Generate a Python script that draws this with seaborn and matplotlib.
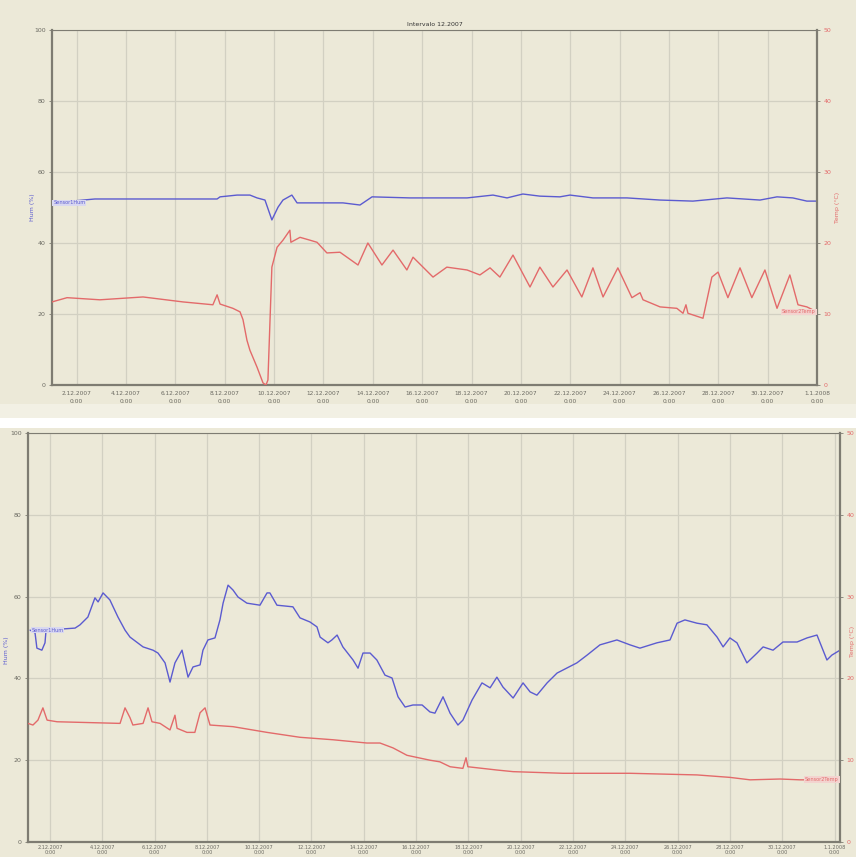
import matplotlib
matplotlib.use("Agg")
import matplotlib.pyplot as plt
import seaborn as sns
import pandas as pd
from matplotlib.patches import Rectangle

# ---------------- data (days since 1.12.2007 0:00) ----------------
top_hum_days = [0, 1.74, 6.69, 6.81, 7.50, 8.02, 8.31, 8.63, 8.91, 9.16, 9.36, 9.72, 9.93,
                11.79, 12.48, 12.97, 14.51, 16.82, 17.87, 18.44, 19.08, 19.77, 20.58, 20.99,
                21.92, 23.30, 24.64, 25.97, 27.35, 28.69, 29.38, 30.02, 30.59, 31.0]
top_hum = [51.3, 52.4, 52.4, 53.0, 53.5, 53.5, 52.7, 52.1, 46.5, 50.1, 52.1, 53.5, 51.3,
           51.3, 50.7, 53.0, 52.7, 52.7, 53.5, 52.7, 53.8, 53.2, 53.0, 53.5,
           52.7, 52.7, 52.1, 51.8, 52.7, 52.1, 53.0, 52.7, 51.8, 51.8]

top_temp_days = [0, 0.61, 1.94, 3.69, 5.31, 6.52, 6.69, 6.81, 7.33, 7.62, 7.74, 7.90, 8.02,
                 8.31, 8.55, 8.67, 8.75, 8.91, 9.12, 9.36, 9.64, 9.68, 10.05, 10.45, 10.74,
                 11.14, 11.67, 12.40, 12.80, 13.37, 13.82, 14.38, 14.63, 15.44, 16.00, 16.82,
                 17.34, 17.75, 18.15, 18.68, 19.37, 19.77, 20.30, 20.87, 21.47, 21.92, 22.33,
                 22.93, 23.50, 23.83, 23.95, 24.64, 25.32, 25.57, 25.69, 25.77, 26.38, 26.74,
                 26.99, 27.39, 27.88, 28.36, 28.89, 29.38, 29.90, 30.23, 30.59, 31.0]
top_temp = [11.7, 12.3, 12.0, 12.4, 11.7, 11.3, 12.7, 11.4, 10.8, 10.3, 9.2, 6.3, 4.9,
            2.5, 0.3, 0.0, 0.7, 16.6, 19.4, 20.4, 21.8, 20.1, 20.8, 20.4, 20.1,
            18.6, 18.7, 16.9, 20.0, 16.9, 19.0, 16.2, 18.0, 15.2, 16.6, 16.2,
            15.5, 16.5, 15.2, 18.3, 13.8, 16.6, 13.8, 16.2, 12.4, 16.5, 12.4,
            16.5, 12.3, 13.0, 12.0, 11.0, 10.8, 10.1, 11.3, 10.1, 9.4, 15.2,
            15.9, 12.3, 16.5, 12.3, 16.2, 10.8, 15.5, 11.3, 11.0, 10.3]

bot_hum_days = [0.24, 0.43, 0.50, 0.69, 0.81, 0.85, 1.96, 2.15, 2.45, 2.72, 2.84, 3.03, 3.29,
                3.60, 3.87, 4.06, 4.56, 4.94, 5.13, 5.40, 5.59, 5.78, 6.05, 6.28, 6.47, 6.74,
                6.85, 7.04, 7.31, 7.50, 7.62, 7.81, 8.00, 8.19, 8.53, 9.03, 9.30, 9.41, 9.68,
                10.29, 10.56, 10.94, 11.21, 11.33, 11.63, 11.78, 11.98, 12.20, 12.59, 12.78,
                12.97, 13.24, 13.50, 13.81, 14.08, 14.31, 14.58, 14.88, 15.23, 15.53, 15.72,
                16.03, 16.30, 16.60, 16.79, 17.14, 17.52, 17.83, 18.09, 18.32, 18.71, 19.09,
                19.36, 19.62, 20.01, 20.39, 21.15, 21.54, 22.03, 22.68, 23.18, 23.56, 24.21,
                24.71, 24.98, 25.28, 25.74, 26.12, 26.51, 26.74, 27.00, 27.27, 27.65, 28.04,
                28.27, 28.65, 29.03, 29.57, 29.95, 30.33, 30.71, 30.90, 31.21]
bot_hum = [51.8, 51.1, 47.4, 46.9, 48.7, 51.8, 52.3, 53.1, 55.0, 59.7, 58.7, 60.9, 59.2,
           55.0, 51.8, 50.1, 47.7, 46.9, 46.2, 43.8, 39.1, 43.8, 46.9, 40.3, 42.8, 43.3,
           46.9, 49.4, 49.9, 54.3, 58.4, 62.8, 61.6, 59.9, 58.4, 57.9, 60.9, 60.9, 57.9,
           57.5, 54.8, 53.8, 52.6, 50.1, 48.7, 49.4, 50.6, 47.7, 44.5, 42.5,
           46.2, 46.2, 44.5, 40.8, 40.1, 35.5, 33.0, 33.5, 33.5, 31.8, 31.5,
           35.5, 31.5, 28.6, 29.8, 34.7, 38.9, 37.7, 40.3, 37.9, 35.2, 38.9,
           36.7, 35.9, 38.9, 41.3, 43.8, 45.7, 48.2, 49.4, 48.2, 47.4, 48.7,
           49.4, 53.5, 54.3, 53.5, 53.1, 50.1, 47.7, 49.9, 48.7, 43.8, 46.2,
           47.7, 46.9, 48.9, 48.9, 49.9, 50.6, 44.5, 45.7, 46.9]

bot_temp_days = [0.16, 0.35, 0.54, 0.73, 0.89, 1.27, 3.68, 3.87, 4.06, 4.17, 4.56, 4.75, 4.90,
                 5.21, 5.59, 5.78, 5.86, 6.24, 6.54, 6.74, 6.93, 7.12, 8.00, 9.30, 10.56,
                 11.82, 13.12, 13.62, 14.12, 14.65, 15.53, 15.91, 16.30, 16.79, 16.91, 16.98,
                 18.09, 18.71, 20.62, 23.18, 25.74, 27.00, 27.77, 28.92, 29.68, 31.21]
bot_temp = [14.5, 14.3, 14.9, 16.4, 14.9, 14.7, 14.5, 16.4, 15.2, 14.3, 14.5, 16.4, 14.7,
            14.5, 13.7, 15.5, 13.9, 13.4, 13.4, 15.8, 16.4, 14.3, 14.1, 13.4, 12.8,
            12.5, 12.1, 12.1, 11.5, 10.6, 10.0, 9.8, 9.2, 9.0, 10.3, 9.2,
            8.8, 8.6, 8.4, 8.4, 8.2, 7.9, 7.6, 7.7, 7.6, 7.6]

tick_days = [1, 3, 5, 7, 9, 11, 13, 15, 17, 19, 21, 23, 25, 27, 29, 31]
tick_labels = ["2.12.2007\n0:00", "4.12.2007\n0:00", "6.12.2007\n0:00", "8.12.2007\n0:00",
               "10.12.2007\n0:00", "12.12.2007\n0:00", "14.12.2007\n0:00", "16.12.2007\n0:00",
               "18.12.2007\n0:00", "20.12.2007\n0:00", "22.12.2007\n0:00", "24.12.2007\n0:00",
               "26.12.2007\n0:00", "28.12.2007\n0:00", "30.12.2007\n0:00", "1.1.2008\n0:00"]
hum_ticks = [0, 20, 40, 60, 80, 100]
temp_ticks = [0, 10, 20, 30, 40, 50]

title_text = "Intervalo 12.2007"
hum_name = "Sensor1Hum"
temp_name = "Sensor2Temp"

# ---------------- style ----------------
sns.set_style("white")
plt.rcParams["font.family"] = ["DejaVu Sans"]

BG = "#ECE9D8"
GRID = "#D2D0C2"
SPINE = "#7E7C72"
BLUE = "#5B5BD0"
RED = "#E36A6A"
TXT = "#6B6A62"

fig = plt.figure(figsize=(8.56, 8.57), dpi=100, facecolor=BG)
# separator strips between the two screenshots
fig.add_artist(Rectangle((0, 1 - 418 / 857), 1, 14 / 857, transform=fig.transFigure,
                         facecolor="#F2F0E4", edgecolor="none", zorder=0))
fig.add_artist(Rectangle((0, 1 - 428 / 857), 1, 10 / 857, transform=fig.transFigure,
                         facecolor="white", edgecolor="none", zorder=0))


def make_panel(rect, hum_x, hum_y, temp_x, temp_y, xlim, title, ylab_pos, xfs, xls, xpad, tlen):
    ax = fig.add_axes(rect)
    ax.set_facecolor(BG)
    sns.lineplot(x=hum_x, y=hum_y, ax=ax, color=BLUE, lw=1.0, estimator=None, sort=False)
    ax.set_xlim(*xlim)
    ax.set_ylim(0, 100)
    ax.set_yticks(hum_ticks)
    ax.set_yticklabels([str(v) for v in hum_ticks], fontsize=4.5, color=TXT)
    ax.set_xticks(tick_days)
    ax.set_xticklabels(tick_labels, fontsize=xfs, color=TXT, linespacing=xls)
    ax.grid(True, color=GRID, lw=0.9)
    ax.tick_params(axis="y", length=2.5, width=0.6, color=SPINE, pad=2)
    ax.tick_params(axis="x", length=tlen, width=0.6, color=SPINE, pad=xpad)
    ax.set_ylabel("Hum (%)", fontsize=4.5, color=BLUE)
    ax.yaxis.set_label_coords(ylab_pos[0], ylab_pos[1])
    ax.set_xlabel("")
    for side in ["left", "bottom", "right"]:
        ax.spines[side].set_color(SPINE)
        ax.spines[side].set_linewidth(1.6)
    ax.spines["top"].set_color(SPINE)
    ax.spines["top"].set_linewidth(0.8)
    if title:
        ax.set_title(title, fontsize=4.5, color="#333333", pad=3)

    ax2 = ax.twinx()
    sns.lineplot(x=temp_x, y=temp_y, ax=ax2, color=RED, lw=1.0, estimator=None, sort=False)
    ax2.set_ylim(0, 50)
    ax2.set_yticks(temp_ticks)
    ax2.set_yticklabels([str(v) for v in temp_ticks], fontsize=4.5, color=RED)
    ax2.tick_params(axis="y", length=2.5, width=0.6, color=SPINE, pad=2)
    ax2.set_ylabel("Temp (°C)", fontsize=4.5, color=RED)
    ax2.yaxis.set_label_coords(ylab_pos[2], ylab_pos[3])
    ax2.grid(False)
    for side in ["left", "bottom", "right", "top"]:
        ax2.spines[side].set_visible(False)

    # series name tags, anchored at series start / end values
    ax.text(hum_x[0] + 0.05, hum_y[0], hum_name, fontsize=3.6, color=BLUE,
            va="center", ha="left",
            bbox=dict(facecolor="#D9D8F0", edgecolor="none", pad=0.6))
    ax2.text(temp_x[-1] - 0.05, temp_y[-1], temp_name, fontsize=3.6, color=RED,
             va="center", ha="right",
             bbox=dict(facecolor="#F3D3CF", edgecolor="none", pad=0.6))
    return ax, ax2


make_panel([52 / 856, 1 - 385 / 857, 765 / 856, 355 / 857],
           top_hum_days, top_hum, top_temp_days, top_temp, (0, 31), title_text,
           (-0.022, 0.50, 1.024, 0.50), 4.2, 1.6, 2, 2.5)
make_panel([28 / 856, 1 - 842 / 857, 812 / 856, 409 / 857],
           bot_hum_days, bot_hum, bot_temp_days, bot_temp, (0.16, 31.21), None,
           (-0.024, 0.47, 1.012, 0.49), 3.6, 1.05, 0.8, 1.2)

fig.savefig("out.png", dpi=100, facecolor=BG)
